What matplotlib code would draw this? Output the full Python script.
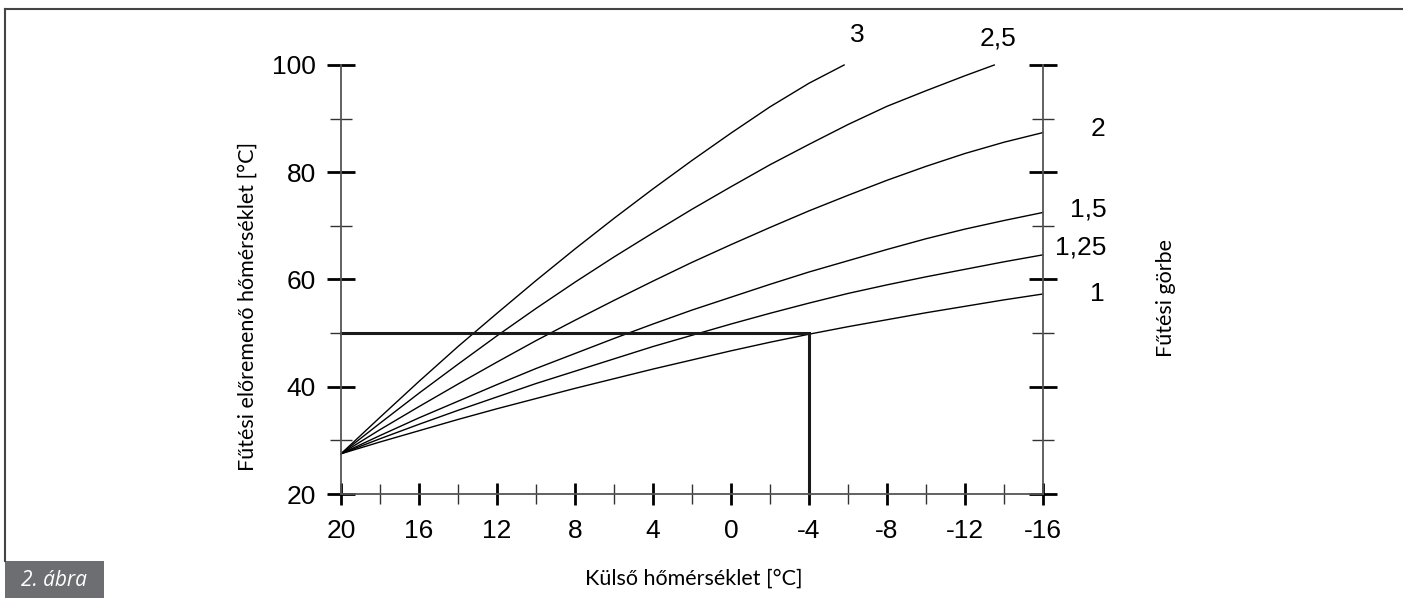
import numpy as np
import matplotlib
matplotlib.use("Agg")
import matplotlib.pyplot as plt
from matplotlib.lines import Line2D
from matplotlib.patches import Rectangle

# outside temperature (x) and flow temperature (y)
x_full = [20, 18, 16, 14, 12, 10, 8, 6, 4, 2, 0, -2, -4, -6, -8, -10, -12, -14, -16]
curve_1 = [27.5, 29.7, 31.8, 33.9, 35.9, 37.8, 39.7, 41.5, 43.3, 45.0,
           46.7, 48.3, 49.8, 51.2, 52.5, 53.8, 55.0, 56.2, 57.3]
curve_125 = [27.5, 30.3, 33.0, 35.6, 38.1, 40.6, 42.9, 45.2, 47.5, 49.6,
             51.7, 53.7, 55.6, 57.4, 59.0, 60.5, 61.9, 63.3, 64.6]
curve_15 = [27.5, 30.9, 34.2, 37.3, 40.4, 43.4, 46.2, 49.0, 51.7, 54.3,
            56.7, 59.1, 61.4, 63.5, 65.6, 67.6, 69.4, 71.0, 72.5]
curve_2 = [27.5, 32.0, 36.3, 40.5, 44.6, 48.6, 52.4, 56.1, 59.7, 63.2,
           66.5, 69.7, 72.8, 75.7, 78.5, 81.1, 83.5, 85.6, 87.4]
x_25 = [20, 18, 16, 14, 12, 10, 8, 6, 4, 2, 0, -2, -4, -6, -8, -10, -12, -13.5]
curve_25 = [27.5, 33.2, 38.8, 44.2, 49.5, 54.6, 59.5, 64.2, 68.7, 73.1,
            77.3, 81.4, 85.2, 88.9, 92.3, 95.2, 98.0, 100.0]
x_3 = [20, 18, 16, 14, 12, 10, 8, 6, 4, 2, 0, -2, -4, -5.8]
curve_3 = [27.5, 34.3, 41.0, 47.5, 53.7, 59.8, 65.7, 71.4, 76.9, 82.2,
           87.3, 92.2, 96.6, 100.0]

# curve names and where their labels sit
curve_names = ["3", "2,5", "2", "1,5", "1,25", "1"]
label_x = [-6.5, -13.7, -18.8, -18.3, -17.95, -18.8]
label_y = [105.6, 105.0, 88.1, 73.0, 65.9, 57.3]

# worked example: -4 °C outside -> 50 °C flow
example_x = -4
example_y = 50

x_major = [20, 16, 12, 8, 4, 0, -4, -8, -12, -16]
x_minor = [18, 14, 10, 6, 2, -2, -6, -10, -14]
y_major = [20, 40, 60, 80, 100]
y_minor = [30, 50, 70, 90]

W, H = 1403, 598
fig = plt.figure(figsize=(W / 100, H / 100), dpi=100)
ax = fig.add_axes([341 / W, (H - 494) / H, 702 / W, (494 - 65) / H])
ax.set_xlim(20, -16)
ax.set_ylim(20, 100)

for xs, ys in [(x_full, curve_1), (x_full, curve_125), (x_full, curve_15),
               (x_full, curve_2), (x_25, curve_25), (x_3, curve_3)]:
    ax.plot(xs, ys, color="black", lw=1.0, clip_on=False)

ax.plot([20, example_x, example_x], [example_y, example_y, 20],
        color="#1a1a1a", lw=2.2, clip_on=False, solid_joinstyle="miter")

for name, lx, ly in zip(curve_names, label_x, label_y):
    ax.text(lx, ly, name, ha="center", va="center", fontsize=19,
            family="Liberation Sans", clip_on=False)

# axes and ticks
axis_grey = "#555555"
for side in ["left", "right", "bottom"]:
    ax.spines[side].set_color(axis_grey)
    ax.spines[side].set_linewidth(1.3)
ax.spines["top"].set_visible(False)

ax.set_xticks(x_major)
ax.set_xticks(x_minor, minor=True)
ax.set_xticklabels([str(v) for v in x_major])
ax.set_yticks(y_major)
ax.set_yticks(y_minor, minor=True)
ax.set_yticklabels([str(v) for v in y_major])
ax.yaxis.set_ticks_position("both")

ax.tick_params(axis="y", which="major", direction="inout", length=20,
               width=2, color="black", labelsize=19, pad=8, labelright=False)
ax.tick_params(axis="y", which="minor", direction="inout", length=15.5,
               width=1, color="#333333")
ax.tick_params(axis="x", which="major", direction="inout", length=15.5,
               width=2, color="black", labelsize=19, pad=10)
ax.tick_params(axis="x", which="minor", direction="inout", length=14,
               width=1, color="#333333")
for lab in ax.get_xticklabels() + ax.get_yticklabels():
    lab.set_family("Liberation Sans")

# axis titles
label_font = "Lato"
fig.text(248 / W, 1 - 306 / H, "Fűtési előremenő hőmérséklet [°C]",
         rotation=90, ha="center", va="center", fontsize=15.5, family=label_font)
fig.text(694 / W, 1 - 579 / H, "Külső hőmérséklet [°C]",
         ha="center", va="center", fontsize=15.5, family=label_font)
fig.text(1166 / W, 1 - 298 / H, "Fűtési görbe", rotation=90,
         ha="center", va="center", fontsize=15.5, family=label_font)

# frame and caption box
fig.add_artist(Line2D([5 / W, 1], [1 - 9 / H, 1 - 9 / H],
                      transform=fig.transFigure, color="#444444", lw=1.5))
fig.add_artist(Line2D([5 / W, 5 / W], [1 - 9 / H, 1 - 561 / H],
                      transform=fig.transFigure, color="#444444", lw=1.5))
fig.add_artist(Rectangle((5 / W, 0), 99 / W, 37 / H, transform=fig.transFigure,
                         facecolor="#6d6e71", edgecolor="none"))
fig.text(54 / W, 1 - 580 / H, "2. ábra", ha="center", va="center",
         fontsize=15, style="italic", color="white", family="Open Sans")

fig.savefig("out.png", dpi=100)
